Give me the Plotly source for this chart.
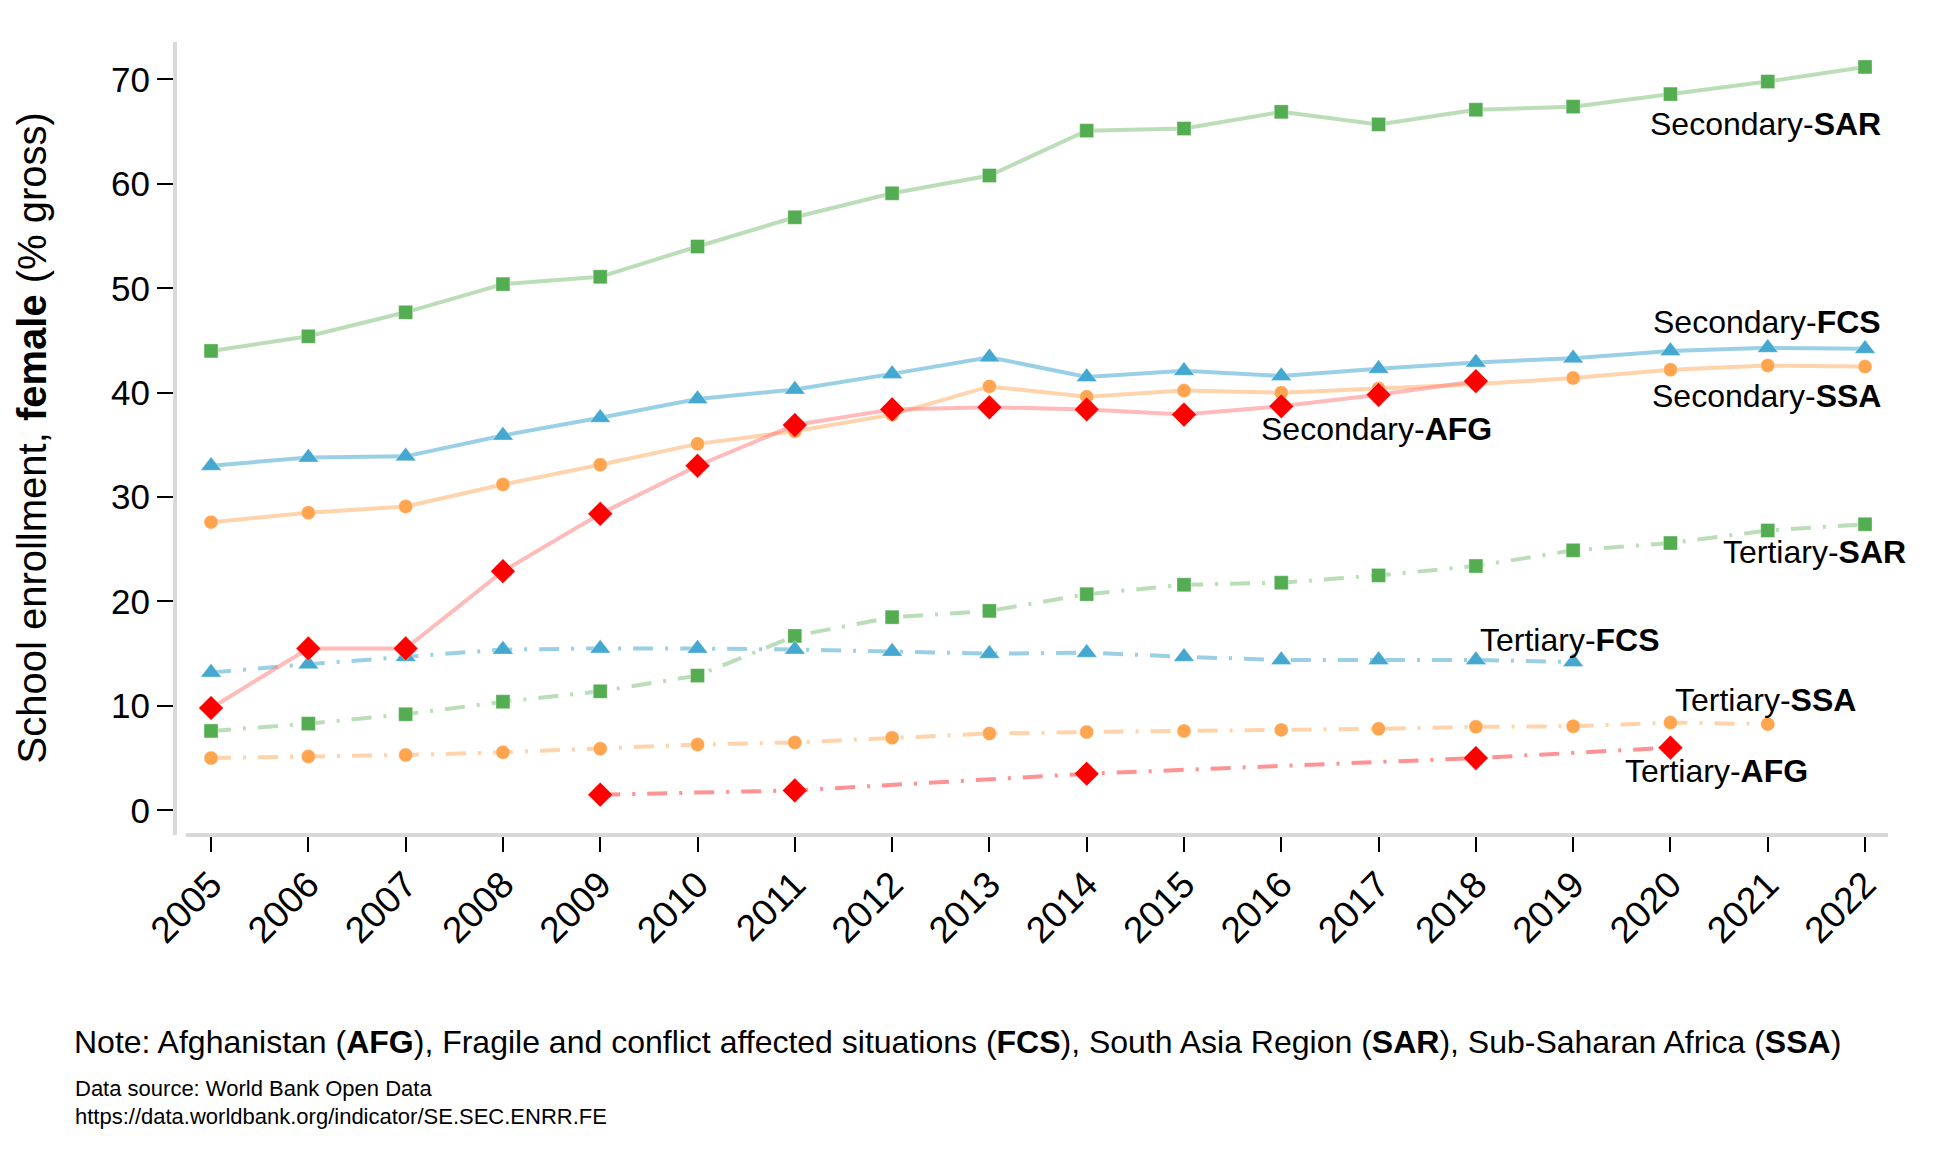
import plotly.graph_objects as go

years = list(range(2005, 2023))

sec_sar = [44.0, 45.4, 47.7, 50.4, 51.1, 54.0, 56.8, 59.1, 60.8, 65.1, 65.3, 66.9, 65.7, 67.1, 67.4, 68.6, 69.8, 71.2]
sec_fcs = [33.0, 33.8, 33.9, 35.9, 37.6, 39.4, 40.3, 41.8, 43.4, 41.5, 42.1, 41.6, 42.3, 42.9, 43.3, 44.0, 44.3, 44.2]
sec_ssa = [27.6, 28.5, 29.1, 31.2, 33.1, 35.1, 36.3, 37.9, 40.6, 39.6, 40.2, 40.0, 40.4, 40.8, 41.4, 42.2, 42.6, 42.5]
sec_afg_years = list(range(2005, 2019))
sec_afg = [9.8, 15.5, 15.5, 22.9, 28.4, 33.0, 36.9, 38.4, 38.6, 38.4, 37.9, 38.7, 39.8, 41.1]

ter_sar = [7.6, 8.3, 9.2, 10.4, 11.4, 12.9, 16.7, 18.5, 19.1, 20.7, 21.6, 21.8, 22.5, 23.4, 24.9, 25.6, 26.8, 27.4]
ter_fcs_years = list(range(2005, 2020))
ter_fcs = [13.2, 14.0, 14.7, 15.4, 15.5, 15.5, 15.4, 15.2, 15.0, 15.1, 14.7, 14.4, 14.4, 14.4, 14.2]
ter_ssa_years = list(range(2005, 2022))
ter_ssa = [5.0, 5.15, 5.3, 5.55, 5.9, 6.3, 6.5, 6.95, 7.35, 7.5, 7.6, 7.7, 7.8, 8.0, 8.05, 8.4, 8.25]
ter_afg_years = [2009, 2011, 2014, 2018, 2020]
ter_afg = [1.5, 1.9, 3.5, 5.0, 6.0]

y_ticks = [0, 10, 20, 30, 40, 50, 60, 70]

FONT = "Liberation Sans, Arial, Helvetica, sans-serif"
DASH = "20px,12px,3px,12px"

GREEN_L = "rgba(120,190,115,0.5)"
GREEN_M = "#55ad52"
BLUE_L = "rgba(70,170,210,0.55)"
BLUE_M = "#45a8d0"
ORANGE_L = "rgba(255,170,90,0.5)"
ORANGE_M = "#ffa550"
RED_L = "rgba(255,130,130,0.55)"
RED_L2 = "rgba(255,100,100,0.7)"
RED_M = "#ff0000"

# plot-area geometry (page pixels); page body has an 8px margin
PL, PR, PT, PB = 177, 1888, 42, 835
BODY = 8
PW, PH = PR - PL, PB - PT

fig = go.Figure()

def add(x, y, lc, mc, sym, size, dash):
    fig.add_trace(go.Scatter(
        x=x, y=y, mode="lines+markers",
        line=dict(color=lc, width=4, dash=dash),
        marker=dict(color=mc, symbol=sym, size=size,
                    line=dict(width=1, color="rgba(255,255,255,0.35)")),
        showlegend=False, hoverinfo="x+y"))

# tertiary (dash-dot)
add(years, ter_sar, GREEN_L, GREEN_M, "square", 14, DASH)
add(ter_fcs_years, ter_fcs, BLUE_L, BLUE_M, "triangle-up", 18, DASH)
add(ter_ssa_years, ter_ssa, ORANGE_L, ORANGE_M, "circle", 14, DASH)
add(ter_afg_years, ter_afg, RED_L2, RED_M, "diamond", 19, DASH)
# secondary (solid)
add(years, sec_sar, GREEN_L, GREEN_M, "square", 14, "solid")
add(years, sec_fcs, BLUE_L, BLUE_M, "triangle-up", 18, "solid")
add(years, sec_ssa, ORANGE_L, ORANGE_M, "circle", 14, "solid")
add(sec_afg_years, sec_afg, RED_L, RED_M, "diamond", 19, "solid")

# labels: (text, right edge px, center y px)
labels = [
    ("Secondary-<b>SAR</b>", 1883, 124),
    ("Secondary-<b>FCS</b>", 1883, 322),
    ("Secondary-<b>SSA</b>", 1883, 396),
    ("Secondary-<b>AFG</b>", 1494, 429),
    ("Tertiary-<b>SAR</b>", 1908, 552),
    ("Tertiary-<b>FCS</b>", 1662, 640),
    ("Tertiary-<b>SSA</b>", 1858, 700),
    ("Tertiary-<b>AFG</b>", 1810, 771),
]
for t, px, py in labels:
    fig.add_annotation(text=t, x=(px - PL) / PW, y=(PB - py) / PH, xref="paper", yref="paper",
                       xanchor="right", yanchor="middle", showarrow=False,
                       font=dict(family=FONT, size=32, color="black"))

# y-axis title
fig.add_annotation(text="School enrollment, <b>female</b> (% gross)", xref="paper", yref="paper",
                   x=0, y=0.5, xshift=31 - PL, xanchor="center", yanchor="middle", textangle=-90,
                   showarrow=False, font=dict(family=FONT, size=40, color="black"))

# notes
fig.add_annotation(text="Note: Afghanistan (<b>AFG</b>), Fragile and conflict affected situations (<b>FCS</b>), "
                        "South Asia Region (<b>SAR</b>), Sub-Saharan Africa (<b>SSA</b>)",
                   xref="paper", yref="paper", x=(72 - PL) / PW, y=(PB - 1042) / PH,
                   xanchor="left", yanchor="middle", showarrow=False,
                   font=dict(family=FONT, size=32, color="black"))
for txt, py in [("Data source: World Bank Open Data", 1088),
                ("https://data.worldbank.org/indicator/SE.SEC.ENRR.FE", 1116)]:
    fig.add_annotation(text=txt, xref="paper", yref="paper", x=(73 - PL) / PW, y=(PB - py) / PH,
                       xanchor="left", yanchor="middle", align="left", showarrow=False,
                       font=dict(family=FONT, size=22, color="black"))

# x-axis line (offset from y-axis)
fig.add_shape(type="line", xref="x", yref="paper", x0=2004.74, x1=2022.236, y0=0, y1=0,
              line=dict(color="#d9d9d9", width=4))

fig.update_layout(
    width=1940, height=1164,
    margin=dict(l=PL - BODY, r=1940 - (PR - BODY), t=PT - BODY, b=1164 - (PB - BODY)),
    plot_bgcolor="white", paper_bgcolor="white",
    font=dict(family=FONT, color="black"),
    xaxis=dict(range=[2004.65, 2022.236], tickmode="array", tickvals=years,
               ticktext=[str(y) for y in years], tickangle=-45,
               ticks="outside", ticklen=16, tickwidth=2, tickcolor="black",
               ticklabelstandoff=-4,
               showgrid=False, zeroline=False, showline=False,
               tickfont=dict(family=FONT, size=37, color="black")),
    yaxis=dict(range=[-2.366, 73.59], tickmode="array", tickvals=y_ticks,
               ticks="outside", ticklen=16, tickwidth=2, tickcolor="black",
               showgrid=False, zeroline=False, showline=True, linecolor="#d9d9d9", linewidth=4,
               tickfont=dict(family=FONT, size=35, color="black")),
)

fig.write_html("out.html")
